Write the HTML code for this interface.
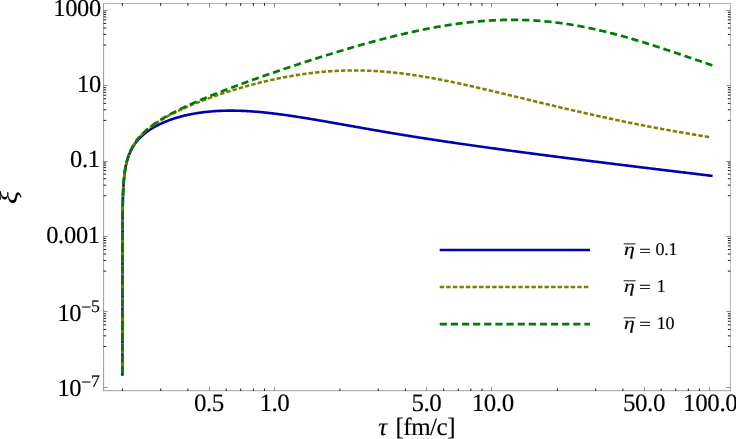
<!DOCTYPE html>
<html><head><meta charset="utf-8"><title>plot</title>
<style>html,body{margin:0;padding:0;background:#fff;overflow:hidden}svg{display:block;will-change:transform}</style></head>
<body>
<svg width="736" height="439" viewBox="0 0 736 439">
<rect width="736" height="439" fill="#fff"/>
<g fill="none" stroke-linejoin="round">
<path d="M122.40 375.70 L122.55 217.78 L122.70 206.42 L122.85 199.77 L122.99 195.04 L123.14 191.38 L123.29 188.38 L123.44 185.84 L123.58 183.64 L123.73 181.69 L123.88 179.95 L124.03 178.38 L124.18 176.94 L124.32 175.61 L124.47 174.38 L124.62 173.24 L124.77 172.16 L124.91 171.16 L125.06 170.20 L125.21 169.30 L125.36 168.45 L125.50 167.63 L125.80 166.11 L126.09 164.72 L126.39 163.43 L126.68 162.23 L126.98 161.10 L127.27 160.05 L127.57 159.05 L127.86 158.11 L128.16 157.22 L128.45 156.37 L128.75 155.56 L129.05 154.79 L129.49 153.69 L129.93 152.65 L130.37 151.67 L130.82 150.74 L131.26 149.86 L131.70 149.02 L132.14 148.21 L132.59 147.44 L133.03 146.70 L133.47 145.99 L133.92 145.31 L134.51 144.43 L135.10 143.60 L135.69 142.80 L136.28 142.03 L136.87 141.30 L137.46 140.59 L138.05 139.91 L138.64 139.25 L139.23 138.61 L139.82 138.00 L140.41 137.40 L141.00 136.83 L141.59 136.27 L142.18 135.72 L142.92 135.06 L143.66 134.43 L144.39 133.81 L145.13 133.22 L145.87 132.64 L146.61 132.08 L147.35 131.54 L148.08 131.01 L148.82 130.49 L149.56 129.99 L150.30 129.51 L151.04 129.03 L151.77 128.57 L152.51 128.12 L153.25 127.68 L153.99 127.25 L154.72 126.83 L155.46 126.43 L156.20 126.03 L156.94 125.64 L157.68 125.25 L158.41 124.88 L159.15 124.52 L159.89 124.16 L160.63 123.81 L161.37 123.47 L162.10 123.13 L162.84 122.80 L163.58 122.48 L164.32 122.17 L165.20 121.80 L166.09 121.44 L166.97 121.09 L167.86 120.75 L168.75 120.41 L169.63 120.09 L170.52 119.77 L171.40 119.46 L172.29 119.15 L173.17 118.86 L174.06 118.57 L174.94 118.29 L175.83 118.01 L176.71 117.74 L177.60 117.48 L178.49 117.22 L179.37 116.97 L180.26 116.73 L181.14 116.49 L182.03 116.26 L182.91 116.04 L183.80 115.82 L184.68 115.60 L185.57 115.39 L186.46 115.19 L187.34 114.99 L188.23 114.80 L189.11 114.61 L190.00 114.43 L190.88 114.25 L191.77 114.08 L192.65 113.91 L193.54 113.75 L194.42 113.59 L195.31 113.44 L196.20 113.29 L197.08 113.15 L197.97 113.01 L198.85 112.88 L199.74 112.75 L200.62 112.62 L201.51 112.50 L202.39 112.38 L203.28 112.27 L204.16 112.16 L205.05 112.06 L205.94 111.96 L206.82 111.86 L207.71 111.77 L208.59 111.68 L209.48 111.59 L210.36 111.51 L211.25 111.44 L212.13 111.36 L213.02 111.30 L213.91 111.23 L214.79 111.17 L215.68 111.11 L216.56 111.06 L217.45 111.01 L218.33 110.96 L219.22 110.91 L220.10 110.87 L220.99 110.84 L221.87 110.80 L222.76 110.77 L223.65 110.75 L224.53 110.72 L225.42 110.70 L226.30 110.68 L227.19 110.67 L228.07 110.66 L228.96 110.65 L229.84 110.65 L230.73 110.65 L231.62 110.65 L232.50 110.65 L233.39 110.66 L234.27 110.67 L235.16 110.68 L236.04 110.70 L236.93 110.71 L237.81 110.73 L238.70 110.76 L239.58 110.78 L240.47 110.81 L241.36 110.85 L242.24 110.88 L243.13 110.92 L244.01 110.96 L244.90 111.00 L245.78 111.04 L246.67 111.09 L247.55 111.14 L248.44 111.19 L249.33 111.24 L250.21 111.30 L251.10 111.36 L251.98 111.42 L252.87 111.48 L253.75 111.54 L254.64 111.61 L255.52 111.68 L256.41 111.75 L257.29 111.82 L258.18 111.90 L259.07 111.98 L259.95 112.06 L260.84 112.14 L261.72 112.22 L262.61 112.30 L263.49 112.39 L264.38 112.48 L265.26 112.57 L266.15 112.66 L267.04 112.76 L267.92 112.85 L268.81 112.95 L269.69 113.05 L270.58 113.15 L271.46 113.25 L272.35 113.35 L273.23 113.46 L274.12 113.56 L275.00 113.67 L275.89 113.78 L276.78 113.89 L277.66 114.00 L278.55 114.12 L279.43 114.23 L280.32 114.35 L281.20 114.46 L282.09 114.58 L282.97 114.70 L283.86 114.82 L284.75 114.95 L285.63 115.07 L286.52 115.19 L287.40 115.32 L288.29 115.45 L289.17 115.57 L290.06 115.70 L290.94 115.83 L291.83 115.96 L292.71 116.10 L293.60 116.23 L294.49 116.36 L295.37 116.50 L296.26 116.63 L297.14 116.77 L298.03 116.91 L298.91 117.05 L299.80 117.18 L300.68 117.32 L301.57 117.46 L302.46 117.61 L303.34 117.75 L304.23 117.89 L305.11 118.03 L306.00 118.18 L306.88 118.32 L307.77 118.47 L308.65 118.61 L309.54 118.76 L310.42 118.91 L311.31 119.06 L312.20 119.20 L313.08 119.35 L313.97 119.50 L314.85 119.65 L315.74 119.80 L316.62 119.95 L317.51 120.10 L318.39 120.26 L319.28 120.41 L320.17 120.56 L321.05 120.71 L321.94 120.87 L322.82 121.02 L323.71 121.17 L324.59 121.33 L325.48 121.48 L326.36 121.63 L327.25 121.79 L328.13 121.94 L329.02 122.10 L329.91 122.26 L330.79 122.41 L331.68 122.57 L332.56 122.72 L333.45 122.88 L334.33 123.04 L335.22 123.19 L336.10 123.35 L336.99 123.51 L337.88 123.66 L338.76 123.82 L339.65 123.98 L340.53 124.14 L341.42 124.29 L342.30 124.45 L343.19 124.61 L344.07 124.76 L344.96 124.92 L345.84 125.08 L346.73 125.24 L347.62 125.39 L348.50 125.55 L349.39 125.71 L350.27 125.87 L351.16 126.02 L352.04 126.18 L352.93 126.34 L353.81 126.50 L354.70 126.65 L355.59 126.81 L356.47 126.97 L357.36 127.12 L358.24 127.28 L359.13 127.44 L360.01 127.59 L360.90 127.75 L361.78 127.91 L362.67 128.06 L363.55 128.22 L364.44 128.37 L365.33 128.53 L366.21 128.68 L367.10 128.84 L367.98 128.99 L368.87 129.15 L369.75 129.30 L370.64 129.46 L371.52 129.61 L372.41 129.77 L373.30 129.92 L374.18 130.07 L375.07 130.23 L375.95 130.38 L376.84 130.53 L377.72 130.68 L378.61 130.84 L379.49 130.99 L380.38 131.14 L381.26 131.29 L382.15 131.44 L383.04 131.60 L383.92 131.75 L384.81 131.90 L385.69 132.05 L386.58 132.20 L387.46 132.35 L388.35 132.50 L389.23 132.65 L390.12 132.79 L391.00 132.94 L391.89 133.09 L392.78 133.24 L393.66 133.39 L394.55 133.54 L395.43 133.68 L396.32 133.83 L397.20 133.98 L398.09 134.12 L398.97 134.27 L399.86 134.41 L400.75 134.56 L401.63 134.70 L402.52 134.85 L403.40 134.99 L404.29 135.14 L405.17 135.28 L406.06 135.43 L406.94 135.57 L407.83 135.71 L408.71 135.86 L409.60 136.00 L410.49 136.14 L411.37 136.28 L412.26 136.42 L413.14 136.57 L414.03 136.71 L414.91 136.85 L415.80 136.99 L416.68 137.13 L417.57 137.27 L418.46 137.41 L419.34 137.55 L420.23 137.69 L421.11 137.83 L422.00 137.96 L422.88 138.10 L423.77 138.24 L424.65 138.38 L425.54 138.52 L426.42 138.65 L427.31 138.79 L428.20 138.93 L429.08 139.06 L429.97 139.20 L430.85 139.33 L431.74 139.47 L432.62 139.61 L433.51 139.74 L434.39 139.88 L435.28 140.01 L436.17 140.14 L437.05 140.28 L437.94 140.41 L438.82 140.55 L439.71 140.68 L440.59 140.81 L441.48 140.94 L442.36 141.08 L443.25 141.21 L444.13 141.34 L445.02 141.47 L445.91 141.60 L446.79 141.74 L447.68 141.87 L448.56 142.00 L449.45 142.13 L450.33 142.26 L451.22 142.39 L452.10 142.52 L452.99 142.65 L453.88 142.78 L454.76 142.91 L455.65 143.04 L456.53 143.17 L457.42 143.29 L458.30 143.42 L459.19 143.55 L460.07 143.68 L460.96 143.81 L461.84 143.93 L462.73 144.06 L463.62 144.19 L464.50 144.32 L465.39 144.44 L466.27 144.57 L467.16 144.70 L468.04 144.82 L468.93 144.95 L469.81 145.08 L470.70 145.20 L471.59 145.33 L472.47 145.45 L473.36 145.58 L474.24 145.70 L475.13 145.83 L476.01 145.95 L476.90 146.08 L477.78 146.20 L478.67 146.32 L479.55 146.45 L480.44 146.57 L481.33 146.70 L482.21 146.82 L483.10 146.94 L483.98 147.07 L484.87 147.19 L485.75 147.31 L486.64 147.43 L487.52 147.56 L488.41 147.68 L489.30 147.80 L490.18 147.92 L491.07 148.05 L491.95 148.17 L492.84 148.29 L493.72 148.41 L494.61 148.53 L495.49 148.65 L496.38 148.77 L497.26 148.90 L498.15 149.02 L499.04 149.14 L499.92 149.26 L500.81 149.38 L501.69 149.50 L502.58 149.62 L503.46 149.74 L504.35 149.86 L505.23 149.98 L506.12 150.10 L507.01 150.22 L507.89 150.34 L508.78 150.46 L509.66 150.57 L510.55 150.69 L511.43 150.81 L512.32 150.93 L513.20 151.05 L514.09 151.17 L514.97 151.29 L515.86 151.40 L516.75 151.52 L517.63 151.64 L518.52 151.76 L519.40 151.88 L520.29 151.99 L521.17 152.11 L522.06 152.23 L522.94 152.35 L523.83 152.46 L524.72 152.58 L525.60 152.70 L526.49 152.81 L527.37 152.93 L528.26 153.05 L529.14 153.16 L530.03 153.28 L530.91 153.40 L531.80 153.51 L532.68 153.63 L533.57 153.75 L534.46 153.86 L535.34 153.98 L536.23 154.09 L537.11 154.21 L538.00 154.33 L538.88 154.44 L539.77 154.56 L540.65 154.67 L541.54 154.79 L542.43 154.90 L543.31 155.02 L544.20 155.13 L545.08 155.25 L545.97 155.36 L546.85 155.48 L547.74 155.59 L548.62 155.71 L549.51 155.82 L550.39 155.93 L551.28 156.05 L552.17 156.16 L553.05 156.28 L553.94 156.39 L554.82 156.50 L555.71 156.62 L556.59 156.73 L557.48 156.85 L558.36 156.96 L559.25 157.07 L560.14 157.19 L561.02 157.30 L561.91 157.41 L562.79 157.53 L563.68 157.64 L564.56 157.75 L565.45 157.87 L566.33 157.98 L567.22 158.09 L568.10 158.20 L568.99 158.32 L569.88 158.43 L570.76 158.54 L571.65 158.66 L572.53 158.77 L573.42 158.88 L574.30 158.99 L575.19 159.10 L576.07 159.22 L576.96 159.33 L577.84 159.44 L578.73 159.55 L579.62 159.66 L580.50 159.78 L581.39 159.89 L582.27 160.00 L583.16 160.11 L584.04 160.22 L584.93 160.33 L585.81 160.45 L586.70 160.56 L587.59 160.67 L588.47 160.78 L589.36 160.89 L590.24 161.00 L591.13 161.11 L592.01 161.22 L592.90 161.34 L593.78 161.45 L594.67 161.56 L595.55 161.67 L596.44 161.78 L597.33 161.89 L598.21 162.00 L599.10 162.11 L599.98 162.22 L600.87 162.33 L601.75 162.44 L602.64 162.55 L603.52 162.66 L604.41 162.77 L605.30 162.88 L606.18 162.99 L607.07 163.10 L607.95 163.21 L608.84 163.32 L609.72 163.43 L610.61 163.54 L611.49 163.65 L612.38 163.76 L613.26 163.87 L614.15 163.98 L615.04 164.09 L615.92 164.20 L616.81 164.31 L617.69 164.42 L618.58 164.53 L619.46 164.64 L620.35 164.75 L621.23 164.86 L622.12 164.97 L623.01 165.08 L623.89 165.18 L624.78 165.29 L625.66 165.40 L626.55 165.51 L627.43 165.62 L628.32 165.73 L629.20 165.84 L630.09 165.95 L630.97 166.06 L631.86 166.16 L632.75 166.27 L633.63 166.38 L634.52 166.49 L635.40 166.60 L636.29 166.71 L637.17 166.82 L638.06 166.92 L638.94 167.03 L639.83 167.14 L640.72 167.25 L641.60 167.36 L642.49 167.47 L643.37 167.57 L644.26 167.68 L645.14 167.79 L646.03 167.90 L646.91 168.01 L647.80 168.12 L648.68 168.22 L649.57 168.33 L650.46 168.44 L651.34 168.55 L652.23 168.65 L653.11 168.76 L654.00 168.87 L654.88 168.98 L655.77 169.09 L656.65 169.19 L657.54 169.30 L658.43 169.41 L659.31 169.52 L660.20 169.62 L661.08 169.73 L661.97 169.84 L662.85 169.95 L663.74 170.05 L664.62 170.16 L665.51 170.27 L666.39 170.38 L667.28 170.48 L668.17 170.59 L669.05 170.70 L669.94 170.80 L670.82 170.91 L671.71 171.02 L672.59 171.13 L673.48 171.23 L674.36 171.34 L675.25 171.45 L676.14 171.55 L677.02 171.66 L677.91 171.77 L678.79 171.87 L679.68 171.98 L680.56 172.09 L681.45 172.19 L682.33 172.30 L683.22 172.41 L684.10 172.51 L684.99 172.62 L685.88 172.73 L686.76 172.83 L687.65 172.94 L688.53 173.05 L689.42 173.15 L690.30 173.26 L691.19 173.37 L692.07 173.47 L692.96 173.58 L693.85 173.69 L694.73 173.79 L695.62 173.90 L696.50 174.00 L697.39 174.11 L698.27 174.22 L699.16 174.32 L700.04 174.43 L700.93 174.54 L701.81 174.64 L702.70 174.75 L703.59 174.85 L704.47 174.96 L705.36 175.07 L706.24 175.17 L707.13 175.28 L708.01 175.38 L708.90 175.49 L709.78 175.60 L710.67 175.70 L711.56 175.81 L712.44 175.91 L712.59 175.93" stroke="#0000ac" stroke-width="2.6"/>
<path d="M122.40 373.30 L122.55 217.77 L122.70 206.40 L122.85 199.74" stroke="#7f7f00" stroke-width="2.55" stroke-dasharray="4.45 2.05"/>
<path d="M122.85 199.74 L122.99 195.01 L123.14 191.33 L123.29 188.33 L123.44 185.78 L123.58 183.57 L123.73 181.62 L123.88 179.87 L124.03 178.28 L124.18 176.83 L124.32 175.50 L124.47 174.26 L124.62 173.11 L124.77 172.03 L124.91 171.01 L125.06 170.05 L125.21 169.14 L125.36 168.28 L125.50 167.45 L125.80 165.92 L126.09 164.50 L126.39 163.19 L126.68 161.97 L126.98 160.83 L127.27 159.76 L127.57 158.75 L127.86 157.79 L128.16 156.88 L128.45 156.01 L128.75 155.18 L129.05 154.38 L129.34 153.62 L129.78 152.53 L130.23 151.50 L130.67 150.53 L131.11 149.60 L131.55 148.71 L132.00 147.86 L132.44 147.05 L132.88 146.27 L133.33 145.51 L133.77 144.79 L134.21 144.09 L134.65 143.41 L135.24 142.54 L135.83 141.70 L136.42 140.89 L137.01 140.12 L137.61 139.37 L138.20 138.64 L138.79 137.94 L139.38 137.26 L139.97 136.59 L140.56 135.95 L141.15 135.32 L141.74 134.71 L142.33 134.12 L142.92 133.54 L143.51 132.97 L144.10 132.42 L144.69 131.87 L145.43 131.21 L146.16 130.56 L146.90 129.93 L147.64 129.32 L148.38 128.72 L149.12 128.13 L149.85 127.55 L150.59 126.99 L151.33 126.44 L152.07 125.89 L152.81 125.36 L153.54 124.84 L154.28 124.32 L155.02 123.82 L155.76 123.32 L156.50 122.83 L157.23 122.35 L157.97 121.87 L158.71 121.41 L159.45 120.94 L160.19 120.49 L160.92 120.04 L161.66 119.60 L162.40 119.16 L163.14 118.73 L163.87 118.30 L164.61 117.88 L165.35 117.47 L166.09 117.06 L166.83 116.65 L167.56 116.25 L168.30 115.85 L169.04 115.46 L169.78 115.07 L170.52 114.68 L171.25 114.30 L171.99 113.92 L172.73 113.54 L173.47 113.17 L174.21 112.81 L174.94 112.44 L175.68 112.08 L176.42 111.72 L177.16 111.37 L177.90 111.01 L178.63 110.67 L179.37 110.32 L180.11 109.98 L180.85 109.63 L181.58 109.30 L182.32 108.96 L183.06 108.63 L183.80 108.30 L184.54 107.97 L185.27 107.64 L186.01 107.32 L186.75 107.00 L187.49 106.68 L188.23 106.36 L188.96 106.04 L189.70 105.73 L190.44 105.42 L191.33 105.05 L192.21 104.68 L193.10 104.32 L193.98 103.96 L194.87 103.60 L195.75 103.24 L196.64 102.89 L197.52 102.53 L198.41 102.19 L199.29 101.84 L200.18 101.49 L201.07 101.15 L201.95 100.81 L202.84 100.48 L203.72 100.14 L204.61 99.81 L205.49 99.48 L206.38 99.15 L207.26 98.82 L208.15 98.50 L209.04 98.17 L209.92 97.85 L210.81 97.54 L211.69 97.22 L212.58 96.91 L213.46 96.59 L214.35 96.28 L215.23 95.97 L216.12 95.67 L217.00 95.36 L217.89 95.06 L218.78 94.76 L219.66 94.46 L220.55 94.16 L221.43 93.87 L222.32 93.57 L223.20 93.28 L224.09 92.99 L224.97 92.70 L225.86 92.42 L226.75 92.13 L227.63 91.85 L228.52 91.57 L229.40 91.29 L230.29 91.01 L231.17 90.73 L232.06 90.46 L232.94 90.19 L233.83 89.92 L234.71 89.65 L235.60 89.38 L236.49 89.11 L237.37 88.85 L238.26 88.59 L239.14 88.32 L240.03 88.07 L240.91 87.81 L241.80 87.55 L242.68 87.30 L243.57 87.05 L244.46 86.79 L245.34 86.55 L246.23 86.30 L247.11 86.05 L248.00 85.81 L248.88 85.57 L249.77 85.33 L250.65 85.09 L251.54 84.85 L252.42 84.61 L253.31 84.38 L254.20 84.15 L255.08 83.92 L255.97 83.69 L256.85 83.46 L257.74 83.24 L258.62 83.01 L259.51 82.79 L260.39 82.57 L261.28 82.35 L262.17 82.14 L263.05 81.92 L263.94 81.71 L264.82 81.50 L265.71 81.29 L266.59 81.08 L267.48 80.88 L268.36 80.67 L269.25 80.47 L270.13 80.27 L271.02 80.07 L271.91 79.87 L272.79 79.68 L273.68 79.48 L274.56 79.29 L275.45 79.10 L276.33 78.92 L277.22 78.73 L278.10 78.55 L278.99 78.36 L279.88 78.18 L280.76 78.01 L281.65 77.83 L282.53 77.65 L283.42 77.48 L284.30 77.31 L285.19 77.14 L286.07 76.98 L286.96 76.81 L287.84 76.65 L288.73 76.49 L289.62 76.33 L290.50 76.17 L291.39 76.02 L292.27 75.86 L293.16 75.71 L294.04 75.56 L294.93 75.42 L295.81 75.27 L296.70 75.13 L297.58 74.99 L298.47 74.85 L299.36 74.71 L300.24 74.57 L301.13 74.44 L302.01 74.31 L302.90 74.18 L303.78 74.06 L304.67 73.93 L305.55 73.81 L306.44 73.69 L307.33 73.57 L308.21 73.45 L309.10 73.34 L309.98 73.23 L310.87 73.12 L311.75 73.01 L312.64 72.90 L313.52 72.80 L314.41 72.70 L315.29 72.60 L316.18 72.50 L317.07 72.41 L317.95 72.32 L318.84 72.22 L319.72 72.14 L320.61 72.05 L321.49 71.97 L322.38 71.88 L323.26 71.81 L324.15 71.73 L325.04 71.65 L325.92 71.58 L326.81 71.51 L327.69 71.44 L328.58 71.37 L329.46 71.31 L330.35 71.25 L331.23 71.19 L332.12 71.13 L333.00 71.08 L333.89 71.02 L334.78 70.97 L335.66 70.92 L336.55 70.88 L337.43 70.83 L338.32 70.79 L339.20 70.75 L340.09 70.71 L340.97 70.68 L341.86 70.65 L342.75 70.62 L343.63 70.59 L344.52 70.56 L345.40 70.54 L346.29 70.52 L347.17 70.50 L348.06 70.48 L348.94 70.47 L349.83 70.45 L350.71 70.44 L351.60 70.43 L352.49 70.43 L353.37 70.42 L354.26 70.42 L355.14 70.42 L356.03 70.43 L356.91 70.43 L357.80 70.44 L358.68 70.45 L359.57 70.46 L360.46 70.47 L361.34 70.49 L362.23 70.51 L363.11 70.53 L364.00 70.55 L364.88 70.58 L365.77 70.60 L366.65 70.63 L367.54 70.66 L368.42 70.70 L369.31 70.73 L370.20 70.77 L371.08 70.81 L371.97 70.85 L372.85 70.90 L373.74 70.94 L374.62 70.99 L375.51 71.04 L376.39 71.09 L377.28 71.15 L378.17 71.21 L379.05 71.26 L379.94 71.33 L380.82 71.39 L381.71 71.45 L382.59 71.52 L383.48 71.59 L384.36 71.66 L385.25 71.73 L386.13 71.81 L387.02 71.88 L387.91 71.96 L388.79 72.04 L389.68 72.13 L390.56 72.21 L391.45 72.30 L392.33 72.39 L393.22 72.48 L394.10 72.57 L394.99 72.66 L395.88 72.76 L396.76 72.86 L397.65 72.95 L398.53 73.06 L399.42 73.16 L400.30 73.26 L401.19 73.37 L402.07 73.48 L402.96 73.59 L403.84 73.70 L404.73 73.82 L405.62 73.93 L406.50 74.05 L407.39 74.17 L408.27 74.29 L409.16 74.41 L410.04 74.53 L410.93 74.66 L411.81 74.78 L412.70 74.91 L413.59 75.04 L414.47 75.18 L415.36 75.31 L416.24 75.44 L417.13 75.58 L418.01 75.72 L418.90 75.86 L419.78 76.00 L420.67 76.14 L421.55 76.28 L422.44 76.43 L423.33 76.57 L424.21 76.72 L425.10 76.87 L425.98 77.02 L426.87 77.17 L427.75 77.33 L428.64 77.48 L429.52 77.64 L430.41 77.79 L431.30 77.95 L432.18 78.11 L433.07 78.27 L433.95 78.44 L434.84 78.60 L435.72 78.76 L436.61 78.93 L437.49 79.10 L438.38 79.26 L439.26 79.43 L440.15 79.60 L441.04 79.78 L441.92 79.95 L442.81 80.12 L443.69 80.30 L444.58 80.47 L445.46 80.65 L446.35 80.83 L447.23 81.00 L448.12 81.18 L449.01 81.36 L449.89 81.55 L450.78 81.73 L451.66 81.91 L452.55 82.10 L453.43 82.28 L454.32 82.47 L455.20 82.65 L456.09 82.84 L456.97 83.03 L457.86 83.22 L458.75 83.41 L459.63 83.60 L460.52 83.79 L461.40 83.98 L462.29 84.18 L463.17 84.37 L464.06 84.57 L464.94 84.76 L465.83 84.96 L466.72 85.15 L467.60 85.35 L468.49 85.55 L469.37 85.75 L470.26 85.95 L471.14 86.14 L472.03 86.35 L472.91 86.55 L473.80 86.75 L474.68 86.95 L475.57 87.15 L476.46 87.35 L477.34 87.56 L478.23 87.76 L479.11 87.97 L480.00 88.17 L480.88 88.38 L481.77 88.58 L482.65 88.79 L483.54 88.99 L484.42 89.20 L485.31 89.41 L486.20 89.62 L487.08 89.82 L487.97 90.03 L488.85 90.24 L489.74 90.45 L490.62 90.66 L491.51 90.87 L492.39 91.08 L493.28 91.29 L494.17 91.50 L495.05 91.71 L495.94 91.92 L496.82 92.14 L497.71 92.35 L498.59 92.56 L499.48 92.77 L500.36 92.98 L501.25 93.20 L502.13 93.41 L503.02 93.62 L503.91 93.83 L504.79 94.05 L505.68 94.26 L506.56 94.47 L507.45 94.69 L508.33 94.90 L509.22 95.12 L510.10 95.33 L510.99 95.54 L511.88 95.76 L512.76 95.97 L513.65 96.19 L514.53 96.40 L515.42 96.62 L516.30 96.83 L517.19 97.04 L518.07 97.26 L518.96 97.47 L519.84 97.69 L520.73 97.90 L521.62 98.12 L522.50 98.33 L523.39 98.55 L524.27 98.76 L525.16 98.98 L526.04 99.19 L526.93 99.41 L527.81 99.62 L528.70 99.83 L529.59 100.05 L530.47 100.26 L531.36 100.48 L532.24 100.69 L533.13 100.91 L534.01 101.12 L534.90 101.33 L535.78 101.55 L536.67 101.76 L537.55 101.98 L538.44 102.19 L539.33 102.40 L540.21 102.62 L541.10 102.83 L541.98 103.04 L542.87 103.25 L543.75 103.47 L544.64 103.68 L545.52 103.89 L546.41 104.10 L547.30 104.32 L548.18 104.53 L549.07 104.74 L549.95 104.95 L550.84 105.16 L551.72 105.37 L552.61 105.58 L553.49 105.79 L554.38 106.00 L555.26 106.21 L556.15 106.42 L557.04 106.63 L557.92 106.84 L558.81 107.05 L559.69 107.26 L560.58 107.47 L561.46 107.68 L562.35 107.89 L563.23 108.10 L564.12 108.30 L565.01 108.51 L565.89 108.72 L566.78 108.93 L567.66 109.13 L568.55 109.34 L569.43 109.55 L570.32 109.75 L571.20 109.96 L572.09 110.16 L572.97 110.37 L573.86 110.57 L574.75 110.78 L575.63 110.98 L576.52 111.18 L577.40 111.39 L578.29 111.59 L579.17 111.79 L580.06 112.00 L580.94 112.20 L581.83 112.40 L582.72 112.60 L583.60 112.80 L584.49 113.00 L585.37 113.20 L586.26 113.40 L587.14 113.60 L588.03 113.80 L588.91 114.00 L589.80 114.20 L590.68 114.40 L591.57 114.60 L592.46 114.79 L593.34 114.99 L594.23 115.19 L595.11 115.38 L596.00 115.58 L596.88 115.78 L597.77 115.97 L598.65 116.17 L599.54 116.36 L600.43 116.56 L601.31 116.75 L602.20 116.94 L603.08 117.14 L603.97 117.33 L604.85 117.52 L605.74 117.71 L606.62 117.90 L607.51 118.09 L608.39 118.28 L609.28 118.47 L610.17 118.66 L611.05 118.85 L611.94 119.04 L612.82 119.23 L613.71 119.42 L614.59 119.61 L615.48 119.79 L616.36 119.98 L617.25 120.17 L618.14 120.35 L619.02 120.54 L619.91 120.72 L620.79 120.91 L621.68 121.09 L622.56 121.27 L623.45 121.46 L624.33 121.64 L625.22 121.82 L626.10 122.00 L626.99 122.18 L627.88 122.36 L628.76 122.54 L629.65 122.72 L630.53 122.90 L631.42 123.08 L632.30 123.26 L633.19 123.44 L634.07 123.62 L634.96 123.79 L635.85 123.97 L636.73 124.15 L637.62 124.32 L638.50 124.50 L639.39 124.67 L640.27 124.85 L641.16 125.02 L642.04 125.19 L642.93 125.37 L643.81 125.54 L644.70 125.71 L645.59 125.88 L646.47 126.05 L647.36 126.22 L648.24 126.39 L649.13 126.56 L650.01 126.73 L650.90 126.90 L651.78 127.07 L652.67 127.24 L653.56 127.41 L654.44 127.57 L655.33 127.74 L656.21 127.90 L657.10 128.07 L657.98 128.23 L658.87 128.40 L659.75 128.56 L660.64 128.73 L661.52 128.89 L662.41 129.05 L663.30 129.22 L664.18 129.38 L665.07 129.54 L665.95 129.70 L666.84 129.86 L667.72 130.02 L668.61 130.18 L669.49 130.34 L670.38 130.50 L671.26 130.65 L672.15 130.81 L673.04 130.97 L673.92 131.13 L674.81 131.28 L675.69 131.44 L676.58 131.59 L677.46 131.75 L678.35 131.90 L679.23 132.06 L680.12 132.21 L681.01 132.37 L681.89 132.52 L682.78 132.67 L683.66 132.82 L684.55 132.98 L685.43 133.13 L686.32 133.28 L687.20 133.43 L688.09 133.58 L688.97 133.73 L689.86 133.88 L690.75 134.03 L691.63 134.18 L692.52 134.32 L693.40 134.47 L694.29 134.62 L695.17 134.77 L696.06 134.91 L696.94 135.06 L697.83 135.21 L698.72 135.35 L699.60 135.50 L700.49 135.64 L701.37 135.79 L702.26 135.93 L703.14 136.07 L704.03 136.22 L704.91 136.36 L705.80 136.50 L706.68 136.64 L707.57 136.79 L708.46 136.93 L709.34 137.07 L710.23 137.21" stroke="#7f7f00" stroke-width="2.55" stroke-dasharray="4.45 2.05" stroke-dashoffset="3.99"/>
<path d="M122.40 373.50 L122.55 217.77 L122.70 206.40 L122.85 199.74 L122.99 195.01 L123.14 191.33 L123.29 188.32 L123.44 185.77 L123.58 183.56 L123.73 181.61 L123.88 179.86 L124.03 178.27 L124.18 176.82 L124.32 175.49 L124.47 174.25 L124.62 173.10 L124.77 172.01 L124.91 171.00 L125.06 170.04 L125.21 169.13 L125.36 168.26 L125.50 167.44 L125.65 166.65 L125.95 165.17 L126.24 163.81 L126.54 162.55 L126.83 161.37 L127.13 160.26 L127.42 159.22 L127.72 158.23 L128.01 157.29 L128.31 156.40 L128.60 155.55 L128.90 154.74 L129.19 153.96 L129.49 153.21 L129.93 152.14 L130.37 151.12 L130.82 150.16 L131.26 149.24 L131.70 148.37 L132.14 147.53 L132.59 146.72 L133.03 145.94 L133.47 145.20 L133.92 144.47 L134.36 143.78 L134.80 143.10 L135.39 142.24 L135.98 141.40 L136.57 140.60 L137.16 139.82 L137.75 139.07 L138.34 138.35 L138.93 137.65 L139.52 136.96 L140.11 136.30 L140.70 135.66 L141.29 135.03 L141.88 134.42 L142.48 133.82 L143.07 133.24 L143.66 132.67 L144.25 132.11 L144.84 131.56 L145.57 130.90 L146.31 130.25 L147.05 129.61 L147.79 128.99 L148.53 128.38 L149.26 127.79 L150.00 127.20 L150.74 126.63 L151.48 126.07 L152.22 125.52 L152.95 124.98 L153.69 124.45 L154.43 123.93 L155.17 123.42 L155.91 122.91 L156.64 122.41 L157.38 121.92 L158.12 121.44 L158.86 120.96 L159.59 120.49 L160.33 120.02 L161.07 119.56 L161.81 119.11 L162.55 118.66 L163.28 118.22 L164.02 117.78 L164.76 117.35 L165.50 116.92 L166.24 116.50 L166.97 116.08 L167.71 115.66 L168.45 115.25 L169.19 114.85 L169.93 114.44 L170.66 114.04 L171.40 113.65 L172.14 113.25 L172.88 112.87 L173.62 112.48 L174.35 112.10 L175.09 111.72 L175.83 111.34 L176.57 110.97 L177.30 110.59 L178.04 110.23 L178.78 109.86 L179.52 109.50 L180.26 109.13 L180.99 108.78 L181.73 108.42 L182.47 108.06 L183.21 107.71 L183.95 107.36 L184.68 107.02 L185.42 106.67 L186.16 106.33 L186.90 105.98 L187.64 105.64 L188.37 105.31 L189.11 104.97 L189.85 104.63 L190.59 104.30 L191.33 103.97 L192.06 103.64 L192.80 103.31 L193.54 102.99 L194.28 102.66 L195.01 102.34 L195.75 102.02 L196.49 101.70 L197.23 101.38 L197.97 101.06 L198.70 100.74 L199.44 100.43 L200.18 100.11 L200.92 99.80 L201.66 99.49 L202.39 99.18 L203.13 98.87 L204.02 98.50 L204.90 98.13 L205.79 97.76 L206.67 97.40 L207.56 97.03 L208.44 96.67 L209.33 96.31 L210.22 95.95 L211.10 95.59 L211.99 95.24 L212.87 94.88 L213.76 94.53 L214.64 94.17 L215.53 93.82 L216.41 93.47 L217.30 93.12 L218.19 92.77 L219.07 92.43 L219.96 92.08 L220.84 91.74 L221.73 91.39 L222.61 91.05 L223.50 90.71 L224.38 90.37 L225.27 90.03 L226.15 89.69 L227.04 89.35 L227.93 89.01 L228.81 88.68 L229.70 88.34 L230.58 88.01 L231.47 87.67 L232.35 87.34 L233.24 87.01 L234.12 86.67 L235.01 86.34 L235.90 86.01 L236.78 85.68 L237.67 85.36 L238.55 85.03 L239.44 84.70 L240.32 84.38 L241.21 84.05 L242.09 83.73 L242.98 83.40 L243.86 83.08 L244.75 82.76 L245.64 82.43 L246.52 82.11 L247.41 81.79 L248.29 81.47 L249.18 81.15 L250.06 80.83 L250.95 80.51 L251.83 80.20 L252.72 79.88 L253.61 79.56 L254.49 79.25 L255.38 78.93 L256.26 78.62 L257.15 78.30 L258.03 77.99 L258.92 77.67 L259.80 77.36 L260.69 77.05 L261.57 76.74 L262.46 76.43 L263.35 76.12 L264.23 75.81 L265.12 75.50 L266.00 75.19 L266.89 74.88 L267.77 74.57 L268.66 74.26 L269.54 73.96 L270.43 73.65 L271.32 73.35 L272.20 73.04 L273.09 72.73 L273.97 72.43 L274.86 72.13 L275.74 71.82 L276.63 71.52 L277.51 71.22 L278.40 70.92 L279.28 70.61 L280.17 70.31 L281.06 70.01 L281.94 69.71 L282.83 69.41 L283.71 69.11 L284.60 68.81 L285.48 68.52 L286.37 68.22 L287.25 67.92 L288.14 67.62 L289.03 67.33 L289.91 67.03 L290.80 66.74 L291.68 66.44 L292.57 66.15 L293.45 65.85 L294.34 65.56 L295.22 65.27 L296.11 64.97 L296.99 64.68 L297.88 64.39 L298.77 64.10 L299.65 63.81 L300.54 63.52 L301.42 63.23 L302.31 62.94 L303.19 62.65 L304.08 62.36 L304.96 62.07 L305.85 61.78 L306.74 61.50 L307.62 61.21 L308.51 60.93 L309.39 60.64 L310.28 60.35 L311.16 60.07 L312.05 59.79 L312.93 59.50 L313.82 59.22 L314.70 58.94 L315.59 58.66 L316.48 58.37 L317.36 58.09 L318.25 57.81 L319.13 57.53 L320.02 57.25 L320.90 56.97 L321.79 56.70 L322.67 56.42 L323.56 56.14 L324.45 55.86 L325.33 55.59 L326.22 55.31 L327.10 55.04 L327.99 54.76 L328.87 54.49 L329.76 54.21 L330.64 53.94 L331.53 53.67 L332.41 53.40 L333.30 53.13 L334.19 52.86 L335.07 52.59 L335.96 52.32 L336.84 52.05 L337.73 51.78 L338.61 51.51 L339.50 51.24 L340.38 50.98 L341.27 50.71 L342.16 50.45 L343.04 50.18 L343.93 49.92 L344.81 49.66 L345.70 49.39 L346.58 49.13 L347.47 48.87 L348.35 48.61 L349.24 48.35 L350.12 48.09 L351.01 47.83 L351.90 47.57 L352.78 47.32 L353.67 47.06 L354.55 46.80 L355.44 46.55 L356.32 46.29 L357.21 46.04 L358.09 45.79 L358.98 45.53 L359.86 45.28 L360.75 45.03 L361.64 44.78 L362.52 44.53 L363.41 44.28 L364.29 44.03 L365.18 43.79 L366.06 43.54 L366.95 43.30 L367.83 43.05 L368.72 42.81 L369.61 42.56 L370.49 42.32 L371.38 42.08 L372.26 41.84 L373.15 41.60 L374.03 41.36 L374.92 41.12 L375.80 40.88 L376.69 40.65 L377.57 40.41 L378.46 40.18 L379.35 39.94 L380.23 39.71 L381.12 39.48 L382.00 39.25 L382.89 39.02 L383.77 38.79 L384.66 38.56 L385.54 38.33 L386.43 38.10 L387.32 37.88 L388.20 37.65 L389.09 37.43 L389.97 37.21 L390.86 36.98 L391.74 36.76 L392.63 36.54 L393.51 36.32 L394.40 36.11 L395.28 35.89 L396.17 35.67 L397.06 35.46 L397.94 35.25 L398.83 35.03 L399.71 34.82 L400.60 34.61 L401.48 34.40 L402.37 34.19 L403.25 33.99 L404.14 33.78 L405.03 33.58 L405.91 33.37 L406.80 33.17 L407.68 32.97 L408.57 32.77 L409.45 32.57 L410.34 32.37 L411.22 32.17 L412.11 31.98 L412.99 31.78 L413.88 31.59 L414.77 31.40 L415.65 31.21 L416.54 31.02 L417.42 30.83 L418.31 30.64 L419.19 30.45 L420.08 30.27 L420.96 30.09 L421.85 29.90 L422.74 29.72 L423.62 29.54 L424.51 29.37 L425.39 29.19 L426.28 29.01 L427.16 28.84 L428.05 28.67 L428.93 28.49 L429.82 28.32 L430.70 28.16 L431.59 27.99 L432.48 27.82 L433.36 27.66 L434.25 27.50 L435.13 27.33 L436.02 27.17 L436.90 27.01 L437.79 26.86 L438.67 26.70 L439.56 26.55 L440.45 26.39 L441.33 26.24 L442.22 26.09 L443.10 25.95 L443.99 25.80 L444.87 25.65 L445.76 25.51 L446.64 25.37 L447.53 25.23 L448.41 25.09 L449.30 24.95 L450.19 24.82 L451.07 24.68 L451.96 24.55 L452.84 24.42 L453.73 24.29 L454.61 24.16 L455.50 24.04 L456.38 23.91 L457.27 23.79 L458.16 23.67 L459.04 23.55 L459.93 23.43 L460.81 23.32 L461.70 23.20 L462.58 23.09 L463.47 22.98 L464.35 22.87 L465.24 22.76 L466.12 22.66 L467.01 22.55 L467.90 22.45 L468.78 22.35 L469.67 22.25 L470.55 22.16 L471.44 22.06 L472.32 21.97 L473.21 21.88 L474.09 21.79 L474.98 21.70 L475.87 21.62 L476.75 21.54 L477.64 21.45 L478.52 21.38 L479.41 21.30 L480.29 21.22 L481.18 21.15 L482.06 21.08 L482.95 21.01 L483.83 20.94 L484.72 20.87 L485.61 20.81 L486.49 20.75 L487.38 20.69 L488.26 20.63 L489.15 20.57 L490.03 20.52 L490.92 20.47 L491.80 20.42 L492.69 20.37 L493.58 20.32 L494.46 20.28 L495.35 20.24 L496.23 20.20 L497.12 20.16 L498.00 20.12 L498.89 20.09 L499.77 20.06 L500.66 20.03 L501.54 20.00 L502.43 19.97 L503.32 19.95 L504.20 19.93 L505.09 19.91 L505.97 19.89 L506.86 19.88 L507.74 19.87 L508.63 19.86 L509.51 19.85 L510.40 19.84 L511.29 19.84 L512.17 19.84 L513.06 19.84 L513.94 19.84 L514.83 19.84 L515.71 19.85 L516.60 19.86 L517.48 19.87 L518.37 19.88 L519.25 19.90 L520.14 19.92 L521.03 19.94 L521.91 19.96 L522.80 19.98 L523.68 20.01 L524.57 20.04 L525.45 20.07 L526.34 20.10 L527.22 20.14 L528.11 20.17 L529.00 20.21 L529.88 20.25 L530.77 20.30 L531.65 20.35 L532.54 20.39 L533.42 20.44 L534.31 20.50 L535.19 20.55 L536.08 20.61 L536.96 20.67 L537.85 20.73 L538.74 20.80 L539.62 20.86 L540.51 20.93 L541.39 21.00 L542.28 21.07 L543.16 21.15 L544.05 21.23 L544.93 21.31 L545.82 21.39 L546.70 21.47 L547.59 21.56 L548.48 21.65 L549.36 21.74 L550.25 21.83 L551.13 21.92 L552.02 22.02 L552.90 22.12 L553.79 22.22 L554.67 22.33 L555.56 22.43 L556.45 22.54 L557.33 22.65 L558.22 22.76 L559.10 22.88 L559.99 23.00 L560.87 23.11 L561.76 23.24 L562.64 23.36 L563.53 23.48 L564.41 23.61 L565.30 23.74 L566.19 23.87 L567.07 24.01 L567.96 24.14 L568.84 24.28 L569.73 24.42 L570.61 24.56 L571.50 24.71 L572.38 24.85 L573.27 25.00 L574.16 25.15 L575.04 25.31 L575.93 25.46 L576.81 25.62 L577.70 25.78 L578.58 25.94 L579.47 26.10 L580.35 26.26 L581.24 26.43 L582.12 26.60 L583.01 26.77 L583.90 26.94 L584.78 27.12 L585.67 27.29 L586.55 27.47 L587.44 27.65 L588.32 27.83 L589.21 28.02 L590.09 28.20 L590.98 28.39 L591.87 28.58 L592.75 28.77 L593.64 28.97 L594.52 29.16 L595.41 29.36 L596.29 29.56 L597.18 29.76 L598.06 29.96 L598.95 30.16 L599.83 30.37 L600.72 30.58 L601.61 30.79 L602.49 31.00 L603.38 31.21 L604.26 31.42 L605.15 31.64 L606.03 31.86 L606.92 32.08 L607.80 32.30 L608.69 32.52 L609.58 32.74 L610.46 32.97 L611.35 33.20 L612.23 33.43 L613.12 33.66 L614.00 33.89 L614.89 34.12 L615.77 34.36 L616.66 34.59 L617.54 34.83 L618.43 35.07 L619.32 35.31 L620.20 35.55 L621.09 35.80 L621.97 36.04 L622.86 36.29 L623.74 36.54 L624.63 36.79 L625.51 37.04 L626.40 37.29 L627.29 37.54 L628.17 37.80 L629.06 38.05 L629.94 38.31 L630.83 38.57 L631.71 38.82 L632.60 39.09 L633.48 39.35 L634.37 39.61 L635.25 39.87 L636.14 40.14 L637.03 40.40 L637.91 40.67 L638.80 40.94 L639.68 41.21 L640.57 41.48 L641.45 41.75 L642.34 42.02 L643.22 42.30 L644.11 42.57 L645.00 42.85 L645.88 43.12 L646.77 43.40 L647.65 43.68 L648.54 43.96 L649.42 44.24 L650.31 44.52 L651.19 44.80 L652.08 45.08 L652.96 45.36 L653.85 45.65 L654.74 45.93 L655.62 46.22 L656.51 46.50 L657.39 46.79 L658.28 47.08 L659.16 47.37 L660.05 47.66 L660.93 47.94 L661.82 48.23 L662.71 48.53 L663.59 48.82 L664.48 49.11 L665.36 49.40 L666.25 49.69 L667.13 49.99 L668.02 50.28 L668.90 50.58 L669.79 50.87 L670.67 51.17 L671.56 51.46 L672.45 51.76 L673.33 52.06 L674.22 52.35 L675.10 52.65 L675.99 52.95 L676.87 53.25 L677.76 53.55 L678.64 53.85 L679.53 54.15 L680.42 54.45 L681.30 54.75 L682.19 55.05 L683.07 55.35 L683.96 55.65 L684.84 55.95 L685.73 56.25 L686.61 56.55 L687.50 56.85 L688.38 57.16 L689.27 57.46 L690.16 57.76 L691.04 58.06 L691.93 58.36 L692.81 58.67 L693.70 58.97 L694.58 59.27 L695.47 59.57 L696.35 59.88 L697.24 60.18 L698.13 60.48 L699.01 60.79 L699.90 61.09 L700.78 61.39 L701.67 61.69 L702.55 62.00 L703.44 62.30 L704.32 62.60 L705.21 62.90 L706.09 63.21 L706.98 63.51 L707.87 63.81 L708.75 64.11 L709.64 64.42 L710.52 64.72 L711.41 65.02 L712.29 65.32 L712.59 65.42" stroke="#007c00" stroke-width="2.7" stroke-dasharray="7.2 3.93"/>
</g>
<g fill="none">
<path d="M439.7 250.03 H590" stroke="#0000ac" stroke-width="2.55"/>
<path d="M439.7 287.1 H590" stroke="#7f7f00" stroke-width="2.5" stroke-dasharray="4.5 2.05"/>
<path d="M439.7 324.1 H590" stroke="#007c00" stroke-width="2.65" stroke-dasharray="7.2 3.93"/>
</g>
<g stroke-width="1" fill="none">
<path d="M103.60 3.00 V391.05" stroke="#9a9a9a"/>
<path d="M730.45 3.00 V391.05" stroke="#b6b6b6"/>
<path d="M103.10 3.50 H730.95" stroke="#b6b6b6"/>
<path d="M103.10 390.70 H730.95" stroke="#a2a2a2"/>
</g>
<path d="M209.50 390.55 v-3.6 M209.50 3.50 v3.9 M274.50 390.55 v-3.6 M274.50 3.50 v3.9 M426.50 390.55 v-3.6 M426.50 3.50 v3.9 M491.50 390.55 v-3.6 M491.50 3.50 v3.9 M644.50 390.55 v-3.6 M644.50 3.50 v3.9 M709.50 390.55 v-3.6 M709.50 3.50 v3.9 M103.60 10.50 h4 M730.45 10.50 h-4 M103.60 85.50 h4 M730.45 85.50 h-4 M103.60 161.50 h4 M730.45 161.50 h-4 M103.60 236.50 h4 M730.45 236.50 h-4 M103.60 311.50 h4 M730.45 311.50 h-4 M103.60 387.50 h4 M730.45 387.50 h-4" stroke="#000" stroke-width="0.45" fill="none"/>
<path d="M122.40 390.95 v-2.5 M122.40 3.10 v2.8 M160.70 390.95 v-2.5 M160.70 3.10 v2.8 M187.88 390.95 v-2.5 M187.88 3.10 v2.8 M226.18 390.95 v-2.5 M226.18 3.10 v2.8 M240.74 390.95 v-2.5 M240.74 3.10 v2.8 M253.35 390.95 v-2.5 M253.35 3.10 v2.8 M264.48 390.95 v-2.5 M264.48 3.10 v2.8 M339.90 390.95 v-2.5 M339.90 3.10 v2.8 M378.20 390.95 v-2.5 M378.20 3.10 v2.8 M405.38 390.95 v-2.5 M405.38 3.10 v2.8 M443.68 390.95 v-2.5 M443.68 3.10 v2.8 M458.24 390.95 v-2.5 M458.24 3.10 v2.8 M470.85 390.95 v-2.5 M470.85 3.10 v2.8 M481.98 390.95 v-2.5 M481.98 3.10 v2.8 M557.40 390.95 v-2.5 M557.40 3.10 v2.8 M595.70 390.95 v-2.5 M595.70 3.10 v2.8 M622.88 390.95 v-2.5 M622.88 3.10 v2.8 M661.18 390.95 v-2.5 M661.18 3.10 v2.8 M675.74 390.95 v-2.5 M675.74 3.10 v2.8 M688.35 390.95 v-2.5 M688.35 3.10 v2.8 M699.48 390.95 v-2.5 M699.48 3.10 v2.8 M103.60 45.06 h2.6 M730.45 45.06 h-2.6 M103.60 34.41 h2.6 M730.45 34.41 h-2.6 M103.60 28.01 h2.6 M730.45 28.01 h-2.6 M103.60 23.43 h2.6 M730.45 23.43 h-2.6 M103.60 19.85 h2.6 M730.45 19.85 h-2.6 M103.60 16.91 h2.6 M730.45 16.91 h-2.6 M103.60 14.43 h2.6 M730.45 14.43 h-2.6 M103.60 12.27 h2.6 M730.45 12.27 h-2.6 M103.60 120.42 h2.6 M730.45 120.42 h-2.6 M103.60 109.77 h2.6 M730.45 109.77 h-2.6 M103.60 103.37 h2.6 M730.45 103.37 h-2.6 M103.60 98.79 h2.6 M730.45 98.79 h-2.6 M103.60 95.21 h2.6 M730.45 95.21 h-2.6 M103.60 92.27 h2.6 M730.45 92.27 h-2.6 M103.60 89.79 h2.6 M730.45 89.79 h-2.6 M103.60 87.63 h2.6 M730.45 87.63 h-2.6 M103.60 195.78 h2.6 M730.45 195.78 h-2.6 M103.60 185.13 h2.6 M730.45 185.13 h-2.6 M103.60 178.73 h2.6 M730.45 178.73 h-2.6 M103.60 174.15 h2.6 M730.45 174.15 h-2.6 M103.60 170.57 h2.6 M730.45 170.57 h-2.6 M103.60 167.63 h2.6 M730.45 167.63 h-2.6 M103.60 165.15 h2.6 M730.45 165.15 h-2.6 M103.60 162.99 h2.6 M730.45 162.99 h-2.6 M103.60 271.14 h2.6 M730.45 271.14 h-2.6 M103.60 260.49 h2.6 M730.45 260.49 h-2.6 M103.60 254.09 h2.6 M730.45 254.09 h-2.6 M103.60 249.51 h2.6 M730.45 249.51 h-2.6 M103.60 245.93 h2.6 M730.45 245.93 h-2.6 M103.60 242.99 h2.6 M730.45 242.99 h-2.6 M103.60 240.51 h2.6 M730.45 240.51 h-2.6 M103.60 238.35 h2.6 M730.45 238.35 h-2.6 M103.60 346.50 h2.6 M730.45 346.50 h-2.6 M103.60 335.85 h2.6 M730.45 335.85 h-2.6 M103.60 329.45 h2.6 M730.45 329.45 h-2.6 M103.60 324.87 h2.6 M730.45 324.87 h-2.6 M103.60 321.29 h2.6 M730.45 321.29 h-2.6 M103.60 318.35 h2.6 M730.45 318.35 h-2.6 M103.60 315.87 h2.6 M730.45 315.87 h-2.6 M103.60 313.71 h2.6 M730.45 313.71 h-2.6" stroke="#000" stroke-width="0.9" fill="none"/>
<g font-family="'Liberation Serif', serif" fill="#000" text-rendering="geometricPrecision" letter-spacing="-0.3" stroke="#000" stroke-width="0.15">
<text x="101" y="16.46" font-size="24.5" text-anchor="end">1000</text>
<text x="101" y="91.82" font-size="24.5" text-anchor="end">10</text>
<text x="99.8" y="167.18" font-size="24.5" text-anchor="end">0.1</text>
<text x="99.8" y="242.54" font-size="24.5" text-anchor="end">0.001</text>
<text x="99.6" y="320.80" font-size="24.5" text-anchor="end">10<tspan font-size="17.75" dy="-7.6">−</tspan><tspan font-size="17.75" dy="-1.4">5</tspan></text>
<text x="99.6" y="395.76" font-size="24.5" text-anchor="end">10<tspan font-size="17.75" dy="-7.6">−</tspan><tspan font-size="17.75" dy="-1.4">7</tspan></text>
<text x="208.96" y="411.0" font-size="25" letter-spacing="-0.4" text-anchor="middle">0.5</text>
<text x="274.43" y="411.0" font-size="25" letter-spacing="-0.4" text-anchor="middle">1.0</text>
<text x="426.46" y="411.0" font-size="25" letter-spacing="-0.4" text-anchor="middle">5.0</text>
<text x="492.73" y="411.0" font-size="25" letter-spacing="-0.4" text-anchor="middle">10.0</text>
<text x="643.96" y="411.0" font-size="25" letter-spacing="-0.4" text-anchor="middle">50.0</text>
<text x="710.23" y="411.0" font-size="25" letter-spacing="-0.4" text-anchor="middle">100.0</text>
<text x="378.2" y="435.3" font-size="25" font-style="italic">τ</text>
<text x="395.5" y="435.3" font-size="25" letter-spacing="-0.5">[fm/c]</text>
<text transform="translate(17.3 203.9) rotate(-90) scale(1.2 1)" font-size="25" font-style="italic" stroke-width="0.2">ξ</text>
<text transform="translate(624.0 254.8) scale(1.2 1)" font-size="18" font-style="italic" letter-spacing="0">η</text>
<text transform="translate(639.3 255.5) scale(1.1 0.833)" font-size="18.6" letter-spacing="0" stroke="#000" stroke-width="0.3">=</text>
<text x="655.6" y="254.8" font-size="18" letter-spacing="-0.3">0.1</text>
<path d="M623.7 243.9 h11.8" stroke="#000" stroke-width="0.9"/>
<text transform="translate(624.0 291.7) scale(1.2 1)" font-size="18" font-style="italic" letter-spacing="0">η</text>
<text transform="translate(639.3 292.4) scale(1.1 0.833)" font-size="18.6" letter-spacing="0" stroke="#000" stroke-width="0.3">=</text>
<text x="656.8" y="291.7" font-size="18" letter-spacing="-0.3">1</text>
<path d="M623.7 280.8 h11.8" stroke="#000" stroke-width="0.9"/>
<text transform="translate(624.0 328.7) scale(1.2 1)" font-size="18" font-style="italic" letter-spacing="0">η</text>
<text transform="translate(639.3 329.4) scale(1.1 0.833)" font-size="18.6" letter-spacing="0" stroke="#000" stroke-width="0.3">=</text>
<text x="656.8" y="328.7" font-size="18" letter-spacing="-0.3">10</text>
<path d="M623.7 317.8 h11.8" stroke="#000" stroke-width="0.9"/>
</g>
</svg>
</body></html>
